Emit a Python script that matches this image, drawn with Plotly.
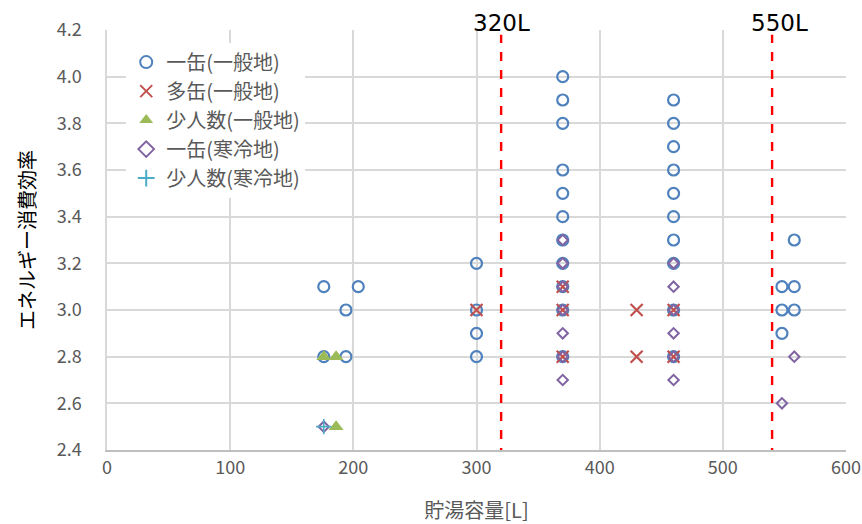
import plotly.graph_objects as go

# 一缶(一般地)
single_gen_x = [176, 176, 194, 194, 204,
                300, 300, 300, 300,
                370, 370, 370, 370, 370, 370, 370, 370, 370, 370, 370,
                460, 460, 460, 460, 460, 460, 460, 460, 460, 460,
                548, 548, 548, 558, 558, 558]
single_gen_y = [3.1, 2.8, 3.0, 2.8, 3.1,
                3.2, 3.0, 2.9, 2.8,
                4.0, 3.9, 3.8, 3.6, 3.5, 3.4, 3.3, 3.2, 3.1, 3.0, 2.8,
                3.9, 3.8, 3.7, 3.6, 3.5, 3.4, 3.3, 3.2, 3.0, 2.8,
                3.1, 3.0, 2.9, 3.3, 3.1, 3.0]

# 多缶(一般地)
multi_gen_x = [300, 370, 370, 370, 430, 430, 460, 460]
multi_gen_y = [3.0, 3.1, 3.0, 2.8, 3.0, 2.8, 3.0, 2.8]

# 少人数(一般地)
small_gen_x = [176, 186, 186]
small_gen_y = [2.8, 2.8, 2.5]

# 一缶(寒冷地)
single_cold_x = [176,
                 370, 370, 370, 370, 370, 370, 370,
                 460, 460, 460, 460, 460, 460,
                 548, 558]
single_cold_y = [2.5,
                 3.3, 3.2, 3.1, 3.0, 2.9, 2.8, 2.7,
                 3.2, 3.1, 3.0, 2.9, 2.8, 2.7,
                 2.6, 2.8]

# 少人数(寒冷地)
small_cold_x = [176]
small_cold_y = [2.5]

# reference volume lines and their labels
ref_lines_x = [320, 540]
ref_labels = ["320L", "550L"]
ref_label_x = [320, 546]

x_ticks = [0, 100, 200, 300, 400, 500, 600]
y_ticks = [2.4, 2.6, 2.8, 3.0, 3.2, 3.4, 3.6, 3.8, 4.0, 4.2]

JP = "Noto Sans CJK JP"
GREY = "#595959"

fig = go.Figure()

fig.add_trace(go.Scatter(
    x=single_gen_x, y=single_gen_y, mode="markers", name="一缶(一般地)",
    marker=dict(symbol="circle-open", size=11, color="#4F81BD",
                line=dict(width=2.2, color="#4F81BD"))))
fig.add_trace(go.Scatter(
    x=multi_gen_x, y=multi_gen_y, mode="markers", name="多缶(一般地)",
    marker=dict(symbol="x-thin-open", size=12, color="#C0504D",
                line=dict(width=2.2, color="#C0504D"))))
fig.add_trace(go.Scatter(
    x=small_gen_x, y=small_gen_y, mode="markers", name="少人数(一般地)",
    marker=dict(symbol="triangle-up", size=13, color="#9BBB59",
                line=dict(width=0))))
fig.add_trace(go.Scatter(
    x=single_cold_x, y=single_cold_y, mode="markers", name="一缶(寒冷地)",
    marker=dict(symbol="diamond-open", size=8, color="#8064A2",
                line=dict(width=2, color="#8064A2"))))
fig.add_trace(go.Scatter(
    x=small_cold_x, y=small_cold_y, mode="markers", name="少人数(寒冷地)",
    marker=dict(symbol="cross-thin-open", size=11, color="#4BACC6",
                line=dict(width=1.6, color="#4BACC6"))))

for xv in ref_lines_x:
    fig.add_shape(type="line", xref="x", yref="y", x0=xv, x1=xv, y0=2.37, y1=4.18,
                  line=dict(color="#FF0000", width=2.4, dash="dash"))

for xv, txt in zip(ref_label_x, ref_labels):
    fig.add_annotation(x=xv, y=1, xref="x", yref="paper", text=txt,
                       showarrow=False, yanchor="bottom", yshift=-8,
                       font=dict(family="DejaVu Sans", size=23, color="#000000"))

fig.update_layout(
    width=862, height=524,
    margin=dict(l=107, r=16, t=30, b=74),
    paper_bgcolor="white", plot_bgcolor="white",
    font=dict(family=JP, color=GREY),
    showlegend=True,
    legend=dict(x=0.026, y=0.97, xanchor="left", yanchor="top",
                bgcolor="rgba(255,255,255,1)",
                font=dict(family=JP, size=20, color=GREY),
                itemsizing="constant", tracegroupgap=0, itemwidth=30),
)

fig.update_xaxes(range=[0, 600], tickvals=x_ticks, ticks="", automargin=False,
                 showgrid=True, gridcolor="#D9D9D9", gridwidth=1.5,
                 zeroline=False, showline=True, linecolor="#BFBFBF", linewidth=1.5,
                 tickfont=dict(family=JP, size=18, color=GREY),
                 ticklabelstandoff=1,
                 title=dict(text="貯湯容量[L]", font=dict(family=JP, size=20, color=GREY),
                            standoff=26))
fig.update_yaxes(range=[2.4, 4.2], tickvals=y_ticks, tickformat=".1f", ticks="",
                 automargin=False,
                 showgrid=True, gridcolor="#D9D9D9", gridwidth=1.5,
                 zeroline=False, showline=True, linecolor="#D9D9D9", linewidth=1.5,
                 tickfont=dict(family=JP, size=18, color=GREY),
                 ticklabelstandoff=20,
                 title=dict(text="エネルギー消費効率", font=dict(family=JP, size=20, color="#000000"),
                            standoff=16))

fig.write_html("out.html")
